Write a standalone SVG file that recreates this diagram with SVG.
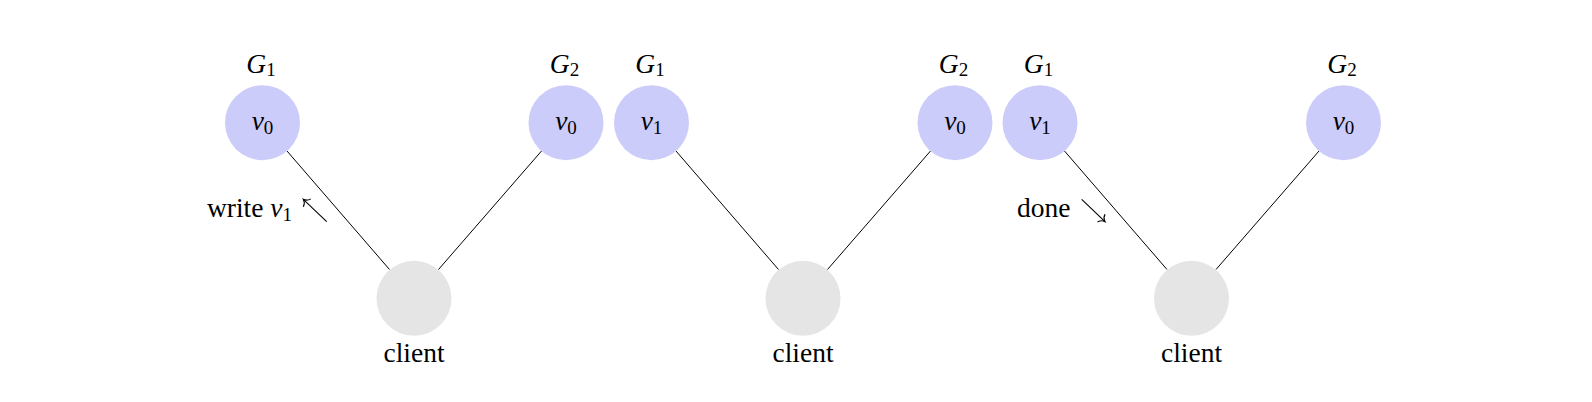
<svg xmlns="http://www.w3.org/2000/svg" width="1592" height="402" viewBox="0 0 1592 402">
<style>
  text { font-family: "Liberation Serif", "DejaVu Serif", serif; font-size: 27.5px; fill: #000; }
  .it { font-style: italic; }
  .sub { font-size: 19px; }
  .srv { fill: #ccccfa; }
  .cli { fill: #e5e5e5; }
  .edge { stroke: #000; stroke-width: 1; fill: none; }
  .arr { stroke: #000; stroke-width: 1.1; fill: none; marker-end: url(#to); }
</style>
<defs>
  <marker id="to" markerUnits="userSpaceOnUse" markerWidth="16" markerHeight="16" refX="0" refY="0" viewBox="-10 -8 16 16" orient="auto" overflow="visible">
    <path d="M -5,-5 C -4.2,-2.2 -1.6,-0.5 0,0 C -1.6,0.5 -4.2,2.2 -5,5" stroke="#000" stroke-width="1.1" fill="none" stroke-linecap="round"/>
  </marker>
</defs>

<g id="connectors">
  <line class="edge" x1="287" y1="151" x2="389.5" y2="269.5"/>
  <line class="edge" x1="541.5" y1="151" x2="438.5" y2="269.5"/>
  <line class="edge" x1="676" y1="151" x2="778.5" y2="269.5"/>
  <line class="edge" x1="930.5" y1="151" x2="827.5" y2="269.5"/>
  <line class="edge" x1="1064.5" y1="151" x2="1167" y2="269.5"/>
  <line class="edge" x1="1319" y1="151" x2="1216" y2="269.5"/>
  <line class="arr" x1="326.7" y1="221.7" x2="303.3" y2="199.3"/>
  <line class="arr" x1="1081.7" y1="199.3" x2="1105" y2="221.7"/>
</g>

<g id="p1-g1">
  <circle class="srv" cx="262.5" cy="122.7" r="37.5"/>
  <text x="262.5" y="130" text-anchor="middle"><tspan class="it">v</tspan><tspan class="sub" dy="4">0</tspan></text>
  <text x="261" y="73" text-anchor="middle"><tspan class="it">G</tspan><tspan class="sub" dy="3">1</tspan></text>
</g>
<g id="p1-g2">
  <circle class="srv" cx="566" cy="122.7" r="37.5"/>
  <text x="566" y="130" text-anchor="middle"><tspan class="it">v</tspan><tspan class="sub" dy="4">0</tspan></text>
  <text x="564.5" y="73" text-anchor="middle"><tspan class="it">G</tspan><tspan class="sub" dy="3">2</tspan></text>
</g>
<g id="p1-client">
  <circle class="cli" cx="414" cy="298.3" r="37.5"/>
  <text x="414" y="362" text-anchor="middle">client</text>
</g>
<g id="p1-label">
  <text x="292" y="217" text-anchor="end">write <tspan class="it">v</tspan><tspan class="sub" dy="4">1</tspan></text>
</g>

<g id="p2-g1">
  <circle class="srv" cx="651.5" cy="122.7" r="37.5"/>
  <text x="651.5" y="130" text-anchor="middle"><tspan class="it">v</tspan><tspan class="sub" dy="4">1</tspan></text>
  <text x="650" y="73" text-anchor="middle"><tspan class="it">G</tspan><tspan class="sub" dy="3">1</tspan></text>
</g>
<g id="p2-g2">
  <circle class="srv" cx="955" cy="122.7" r="37.5"/>
  <text x="955" y="130" text-anchor="middle"><tspan class="it">v</tspan><tspan class="sub" dy="4">0</tspan></text>
  <text x="953.5" y="73" text-anchor="middle"><tspan class="it">G</tspan><tspan class="sub" dy="3">2</tspan></text>
</g>
<g id="p2-client">
  <circle class="cli" cx="803" cy="298.3" r="37.5"/>
  <text x="803" y="362" text-anchor="middle">client</text>
</g>

<g id="p3-g1">
  <circle class="srv" cx="1040" cy="122.7" r="37.5"/>
  <text x="1040" y="130" text-anchor="middle"><tspan class="it">v</tspan><tspan class="sub" dy="4">1</tspan></text>
  <text x="1038.5" y="73" text-anchor="middle"><tspan class="it">G</tspan><tspan class="sub" dy="3">1</tspan></text>
</g>
<g id="p3-g2">
  <circle class="srv" cx="1343.5" cy="122.7" r="37.5"/>
  <text x="1343.5" y="130" text-anchor="middle"><tspan class="it">v</tspan><tspan class="sub" dy="4">0</tspan></text>
  <text x="1342" y="73" text-anchor="middle"><tspan class="it">G</tspan><tspan class="sub" dy="3">2</tspan></text>
</g>
<g id="p3-client">
  <circle class="cli" cx="1191.5" cy="298.3" r="37.5"/>
  <text x="1191.5" y="362" text-anchor="middle">client</text>
</g>
<g id="p3-label">
  <text x="1017" y="217">done</text>
</g>
</svg>
